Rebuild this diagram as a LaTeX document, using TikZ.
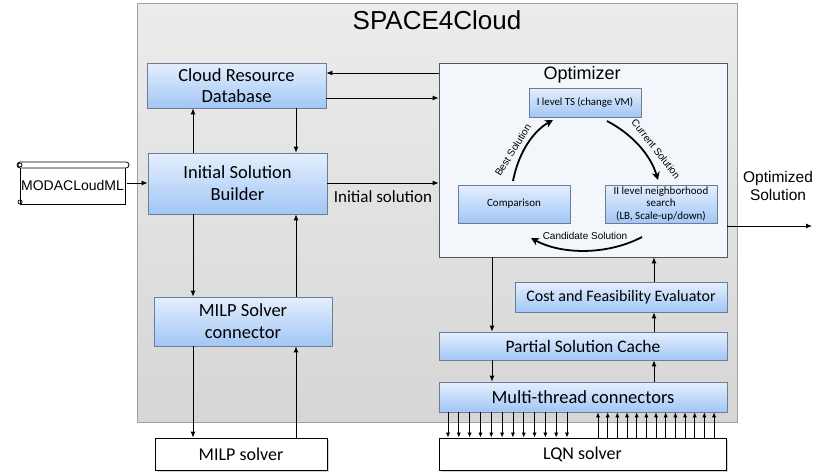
\documentclass[tikz,border=0pt]{standalone}
\usepackage{fontspec}
\setmainfont{Carlito}
\newfontfamily\arialf{Liberation Sans}
\usetikzlibrary{arrows.meta,shadows}
\definecolor{bluetop}{RGB}{228,239,253}
\definecolor{bluebot}{RGB}{162,198,246}
\definecolor{blueborder}{RGB}{110,125,150}
\definecolor{graytop}{RGB}{236,236,236}
\definecolor{graybot}{RGB}{214,214,214}
\definecolor{grayborder}{RGB}{160,160,160}
\definecolor{optfill}{RGB}{243,247,252}
\tikzset{
  bluebox/.style={draw=blueborder, line width=0.7pt, top color=bluetop, bottom color=bluebot, inner sep=0pt, align=center,
    drop shadow={shadow xshift=1.2pt, shadow yshift=-1.2pt, opacity=0.35}},
  whitebox/.style={draw=black, line width=0.9pt, fill=white, inner sep=0pt, align=center,
    drop shadow={shadow xshift=1.5pt, shadow yshift=-1.5pt, opacity=0.35}},
  arr/.style={line width=0.9pt, -{Latex[length=6pt,width=5pt]}},
  thinarr/.style={line width=0.8pt, -{Latex[length=5pt,width=4.2pt]}},
  curvearr/.style={line width=1.8pt, -{Stealth[length=8pt,width=8pt]}},
}
\begin{document}
\begin{tikzpicture}[x=1pt,y=-1pt]
\useasboundingbox (0,0) rectangle (817,474);
% outer box
\node[draw=grayborder, line width=0.7pt, top color=graytop, bottom color=graybot, minimum width=600pt, minimum height=419pt, inner sep=0pt] (outer) at (437,212.5) {};
\node[font=\arialf\fontsize{26}{28}\selectfont] (title) at (437,20) {SPACE4Cloud};

% left column
\node[bluebox, minimum width=179pt, minimum height=45pt, font=\fontsize{18.5}{21.5}\selectfont] (crd) at (236.5,85.5) {Cloud Resource\\Database};
\node[bluebox, minimum width=179pt, minimum height=61pt, font=\fontsize{18.5}{22}\selectfont] (isb) at (237.5,183.5) {Initial Solution\\Builder};
\node[bluebox, minimum width=178pt, minimum height=49pt, font=\fontsize{18.5}{22}\selectfont] (milpc) at (243,321.5) {MILP Solver\\connector};
\node[whitebox, minimum width=172pt, minimum height=32pt, font=\fontsize{18}{20}\selectfont] (milps) at (241,454) {MILP solver};

% MODACLoudML scroll
\draw[line width=0.8pt, fill=white] (20,166) rectangle (125,204);
\draw[line width=0.8pt, fill=white, rounded corners=3pt] (17,162) rectangle (129,168);
\draw[line width=0.7pt] (20,165) circle (2);
\draw[line width=0.7pt] (20,202) circle (2);
\node[font=\arialf\fontsize{14}{16}\selectfont, inner sep=0pt, minimum width=108pt, minimum height=36pt] (moda) at (72.5,185) {MODACLoudML};

% optimizer
\node[draw=blueborder!70!black, line width=0.7pt, fill=optfill, minimum width=288pt, minimum height=194pt, inner sep=0pt] (opt) at (583,160) {};
\node[font=\arialf\fontsize{18}{20}\selectfont] (opttitle) at (582,75) {Optimizer};
\node[bluebox, minimum width=112pt, minimum height=29pt, font=\fontsize{10.8}{13}\selectfont] (ts) at (585,102.5) {I level TS (change VM)};
\node[bluebox, minimum width=112pt, minimum height=38pt, font=\fontsize{11}{13}\selectfont] (comp) at (514,204) {Comparison};
\node[bluebox, minimum width=112pt, minimum height=38pt, font=\fontsize{11}{12.5}\selectfont] (ii) at (661,204) {II level neighborhood\\search\\(LB, Scale-up/down)};

\coordinate (b1) at (513,181);
\coordinate (b2) at (553,120);
\coordinate (c1) at (607,121);
\coordinate (c2) at (658,180);
\coordinate (d1) at (642,237);
\coordinate (d2) at (531,238);
\draw[curvearr] (b1) .. controls (519,150) and (535,130) .. (b2);
\draw[curvearr] (c1) .. controls (630,133) and (650,153) .. (c2);
\draw[curvearr] (d1) .. controls (608,255) and (562,255) .. (d2);
\node[font=\arialf\fontsize{10}{12}\selectfont, rotate=58] (lbest) at (513,150) {Best Solution};
\node[font=\arialf\fontsize{10}{12}\selectfont, rotate=-52] (lcur) at (656,149) {Current Solution};
\node[font=\arialf\fontsize{10}{12}\selectfont] (lcand) at (585,236) {Candidate Solution};

% right column
\node[bluebox, minimum width=212pt, minimum height=30pt, font=\fontsize{16}{18}\selectfont] (cfe) at (621,297) {Cost and Feasibility Evaluator};
\node[bluebox, minimum width=288pt, minimum height=28pt, font=\fontsize{17.5}{20}\selectfont] (psc) at (583,346) {Partial Solution Cache};
\node[bluebox, minimum width=288pt, minimum height=30pt, font=\fontsize{18.5}{20}\selectfont] (mtc) at (583,397) {Multi-thread connectors};
\node[whitebox, minimum width=287pt, minimum height=32pt, font=\fontsize{18}{20}\selectfont] (lqn) at (582.5,454) {LQN solver};

% helper coordinates
\coordinate (xa) at (193,0);
\coordinate (xb) at (296,0);
\coordinate (xc) at (492,0);
\coordinate (xd) at (654,0);
\coordinate (y73) at (0,73);
\coordinate (y98) at (0,98);
\coordinate (y183) at (0,183);
\coordinate (y226) at (0,226);
\coordinate (outend) at (812,226);

% left connectors
\draw[arr] (moda.east |- y183) -- (isb.west |- y183);
\draw[arr] (isb.north -| xa) -- (crd.south -| xa);
\draw[arr] (crd.south -| xb) -- (isb.north -| xb);
\draw[arr] (opt.west |- y73) -- (crd.east |- y73);
\draw[arr] (crd.east |- y98) -- (opt.west |- y98);
\draw[arr] (isb.east |- y183) -- (opt.west |- y183);
\node[font=\fontsize{17}{18}\selectfont] (linit) at (383,197) {Initial solution};
\draw[arr] (isb.south -| xa) -- (milpc.north -| xa);
\draw[arr] (milpc.north -| xb) -- (isb.south -| xb);
\draw[arr] (milpc.south -| xa) -- (milps.north -| xa);
\draw[arr] (milps.north -| xb) -- (milpc.south -| xb);

% right connectors
\draw[arr] (opt.east |- y226) -- (outend);
\node[font=\arialf\fontsize{15.5}{18}\selectfont, align=center] (lopt) at (778,186) {Optimized\\Solution};
\draw[arr] (opt.south -| xc) -- (psc.north -| xc);
\draw[arr] (psc.south -| xc) -- (mtc.north -| xc);
\draw[arr] (mtc.north -| xd) -- (psc.south -| xd);
\draw[arr] (psc.north -| xd) -- (cfe.south -| xd);
\draw[arr] (cfe.north -| xd) -- (opt.south -| xd);

\foreach \i in {0,...,11} {
  \coordinate (dn) at ({448+\i*10.82},0);
  \draw[thinarr] (mtc.south -| dn) -- (lqn.north -| dn);
}
\foreach \i in {0,...,12} {
  \coordinate (up) at ({598+\i*9.67},0);
  \draw[thinarr] (lqn.north -| up) -- (mtc.south -| up);
}
\end{tikzpicture}
\end{document}
